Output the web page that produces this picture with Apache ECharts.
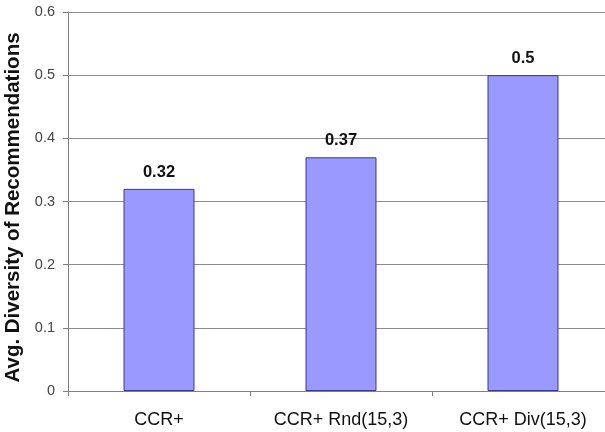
<!DOCTYPE html>
<html>
<head>
<meta charset="utf-8">
<script src="https://cdn.jsdelivr.net/npm/echarts@6/dist/echarts.min.js"></script>
<style>
  html, body { margin: 0; padding: 0; background: #fff; }
  #chart { width: 605px; height: 432px; }
</style>
</head>
<body>
<div id="chart"></div>
<script>
// Average diversity of recommendations per method
const categories = ['CCR+', 'CCR+ Rnd(15,3)', 'CCR+ Div(15,3)'];
const diversity = [0.32, 0.37, 0.5];
const yTicks = [0, 0.1, 0.2, 0.3, 0.4, 0.5, 0.6];

const font = 'Liberation Sans, Arial, sans-serif';
const chart = echarts.init(document.getElementById('chart'), null, { renderer: 'canvas' });

chart.setOption({
  animation: false,
  backgroundColor: '#ffffff',
  grid: {
    left: 68, top: 12, width: 546, height: 379,
    containLabel: false, outerBoundsMode: 'none'
  },
  xAxis: {
    type: 'category',
    data: categories,
    axisLine: { show: true, lineStyle: { color: '#808080', width: 1 } },
    axisTick: { show: true, length: 5, alignWithLabel: false, lineStyle: { color: '#808080' } },
    axisLabel: { color: '#111', fontFamily: font, fontSize: 18, margin: 20 }
  },
  yAxis: {
    type: 'value',
    min: yTicks[0],
    max: yTicks[yTicks.length - 1],
    interval: 0.1,
    name: 'Avg. Diversity of Recommendations',
    nameLocation: 'middle',
    nameGap: 43,
    nameTextStyle: { color: '#111', fontFamily: font, fontSize: 20.5, fontWeight: 'bold', padding: [0, 12, 0, 0] },
    axisLine: { show: true, lineStyle: { color: '#808080', width: 1 } },
    axisTick: { show: true, length: 5, lineStyle: { color: '#808080' } },
    axisLabel: {
      color: '#444', fontFamily: font, fontSize: 14.5, margin: 13,
      formatter: v => String(Math.round(v * 10) / 10)
    },
    splitLine: { show: true, lineStyle: { color: '#8c8c8c', width: 1 } }
  },
  series: [{
    type: 'bar',
    data: diversity,
    barWidth: 71,
    itemStyle: { color: '#9999ff', borderColor: '#3a3a8c', borderWidth: 1 },
    label: {
      show: true,
      position: 'top',
      distance: 8,
      color: '#111',
      fontFamily: font,
      fontSize: 16.5,
      fontWeight: 'bold'
    }
  }]
});
</script>
</body>
</html>
